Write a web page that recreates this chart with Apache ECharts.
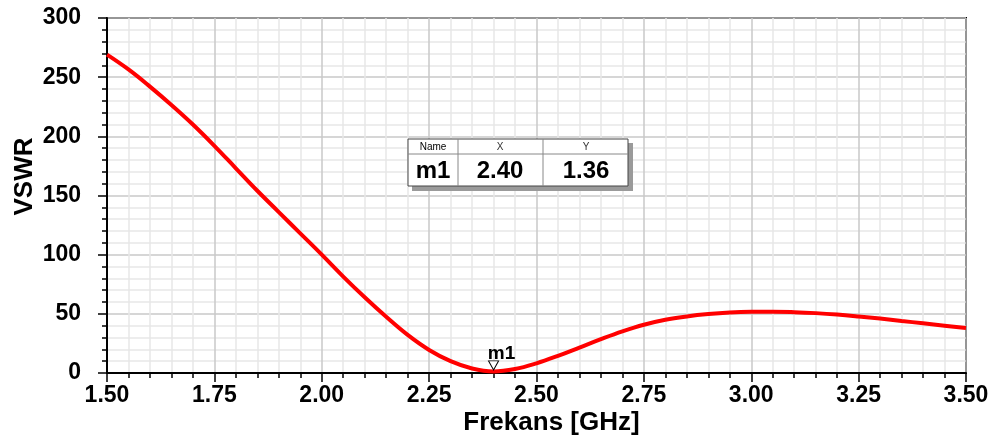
<!DOCTYPE html>
<html>
<head>
<meta charset="utf-8">
<script src="https://cdn.jsdelivr.net/npm/echarts@6/dist/echarts.min.js"></script>
<style>
  html, body { margin: 0; padding: 0; background: #fff; }
  #chart { width: 1000px; height: 439px; }
</style>
</head>
<body>
<div id="chart"></div>
<script>
// frekans (GHz) ve VSWR degerleri
const freqs = [1.50, 1.55, 1.60, 1.65, 1.70, 1.75, 1.80, 1.85, 1.90, 1.95,
               2.00, 2.05, 2.10, 2.15, 2.20, 2.25, 2.30, 2.35, 2.40, 2.45,
               2.50, 2.55, 2.60, 2.65, 2.70, 2.75, 2.80, 2.85, 2.90, 2.95,
               3.00, 3.05, 3.10, 3.15, 3.20, 3.25, 3.30, 3.35, 3.40, 3.45, 3.50];
const vswr = [269, 256.5, 242, 226.5, 210, 192, 173, 154, 136, 118,
              100, 81.5, 64, 47.5, 32.2, 19.5, 10, 3.8, 1.36, 3.4,
              8.2, 14.5, 21.5, 28.6, 35.2, 40.8, 45, 47.8, 49.8, 51.1,
              51.7, 51.8, 51.4, 50.6, 49.4, 47.8, 46, 44, 42, 40, 38];
// marker m1
const markerName = 'm1';
const markerX = 2.40;
const markerY = 1.36;

const font = '"Liberation Sans", Arial, sans-serif';
const myChart = echarts.init(document.getElementById('chart'));

function cellText(x, y, text, size, bold, color) {
  return {
    type: 'text', x: x, y: y, z: 110,
    style: {
      text: text, fontFamily: font, fontSize: size, fontWeight: bold ? 'bold' : 'normal',
      fill: color, align: 'center', verticalAlign: 'middle'
    }
  };
}

const option = {
  animation: false,
  grid: {
    left: 107, right: 34, top: 18, bottom: 66,
    outerBoundsMode: 'none',
    show: true, borderColor: '#000', borderWidth: 2
  },
  xAxis: {
    type: 'value',
    min: 1.5, max: 3.5, interval: 0.25,
    name: 'Frekans [GHz]',
    nameLocation: 'middle',
    nameGap: 37,
    nameMoveOverlap: false,
    nameTextStyle: { fontFamily: font, fontWeight: 'bold', fontSize: 26, color: '#000', padding: [0, 0, 0, 30] },
    axisLine: { show: true, onZero: false, lineStyle: { color: '#000', width: 2 } },
    axisTick: { show: true, length: 9, lineStyle: { color: '#000', width: 1.5 } },
    minorTick: { show: true, splitNumber: 5, length: 5, lineStyle: { color: '#000', width: 1.5 } },
    axisLabel: {
      fontFamily: font, fontWeight: 'bold', fontSize: 23, color: '#000', margin: 11,
      formatter: v => v.toFixed(2)
    },
    splitLine: { show: true, lineStyle: { color: '#c8c8c8', width: 1.5 } },
    minorSplitLine: { show: true, lineStyle: { color: '#e8e8e8', width: 1.5 } }
  },
  yAxis: {
    type: 'value',
    min: 0, max: 300, interval: 50,
    name: 'VSWR',
    nameLocation: 'middle',
    nameGap: 69,
    nameMoveOverlap: false,
    nameTextStyle: { fontFamily: font, fontWeight: 'bold', fontSize: 26, color: '#000', padding: [0, 0, 0, 38] },
    axisLine: { show: true, lineStyle: { color: '#000', width: 2 } },
    axisTick: { show: true, length: 9, lineStyle: { color: '#000', width: 1.5 } },
    minorTick: { show: true, splitNumber: 5, length: 5, lineStyle: { color: '#000', width: 1.5 } },
    axisLabel: { fontFamily: font, fontWeight: 'bold', fontSize: 23, color: '#000', margin: 26 },
    splitLine: { show: true, lineStyle: { color: '#c8c8c8', width: 1.5 } },
    minorSplitLine: { show: true, lineStyle: { color: '#e8e8e8', width: 1.5 } }
  },
  series: [{
    type: 'line',
    data: freqs.map((f, i) => [f, vswr[i]]),
    smooth: 0.4,
    showSymbol: false,
    lineStyle: { color: '#ff0000', width: 4 },
    markPoint: {
      symbol: 'triangle',
      symbolSize: [10, 9],
      symbolRotate: 180,
      symbolOffset: [0, -6],
      itemStyle: { color: '#fff', borderColor: '#000', borderWidth: 1 },
      label: {
        show: true, position: 'top', distance: 0, offset: [8, 3],
        formatter: markerName,
        fontFamily: font, fontWeight: 'bold', fontSize: 19, color: '#000'
      },
      data: [{ coord: [markerX, markerY] }]
    }
  }],
  // marker tablosu
  graphic: [
    { type: 'rect', z: 100, shape: { x: 412, y: 143, width: 221, height: 48 }, style: { fill: '#9a9a9a' } },
    { type: 'rect', z: 101, shape: { x: 408, y: 139, width: 220, height: 47 }, style: { fill: '#fff', stroke: '#444', lineWidth: 1 } },
    { type: 'line', z: 102, shape: { x1: 408, y1: 154, x2: 628, y2: 154 }, style: { stroke: '#888', lineWidth: 1 } },
    { type: 'line', z: 102, shape: { x1: 458, y1: 139, x2: 458, y2: 186 }, style: { stroke: '#888', lineWidth: 1 } },
    { type: 'line', z: 102, shape: { x1: 543, y1: 139, x2: 543, y2: 186 }, style: { stroke: '#888', lineWidth: 1 } },
    cellText(433, 147, 'Name', 10, false, '#000'),
    cellText(500, 147, 'X', 10, false, '#333'),
    cellText(586, 147, 'Y', 10, false, '#333'),
    cellText(433, 171, markerName, 24, true, '#000'),
    cellText(500, 171, markerX.toFixed(2), 24, true, '#000'),
    cellText(586, 171, markerY.toFixed(2), 24, true, '#000')
  ]
};
myChart.setOption(option);
</script>
</body>
</html>
